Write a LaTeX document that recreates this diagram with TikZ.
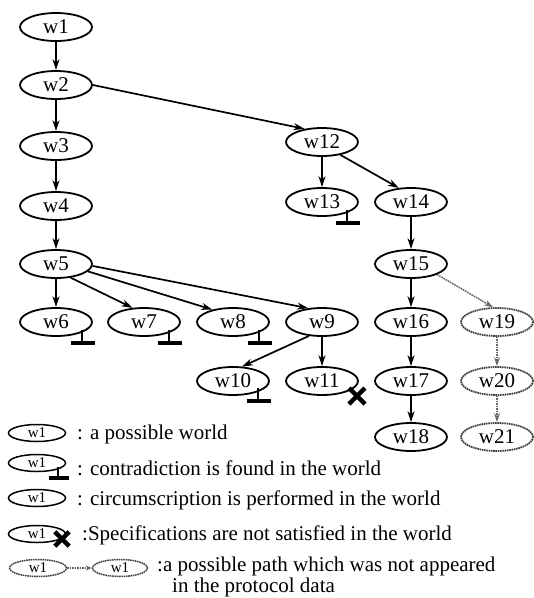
\documentclass[tikz,border=0pt]{standalone}
\usepackage{fontspec}
\setmainfont{Liberation Serif}
\usetikzlibrary{shapes.geometric,arrows.meta}
\begin{document}
\begin{tikzpicture}[x=1pt,y=-1pt,
  world/.style={ellipse,draw,line width=1.8pt,minimum width=72pt,minimum height=28pt,
    inner sep=0pt,font=\fontsize{21}{24}\selectfont},
  ghost/.style={world,draw=black!75,dash pattern=on 1.6pt off 0.7pt},
  keyworld/.style={ellipse,draw,line width=1.5pt,minimum width=57pt,minimum height=17pt,
    inner sep=0pt,font=\fontsize{15}{16}\selectfont},
  keyghost/.style={keyworld,draw=black!75,dash pattern=on 1.6pt off 0.7pt},
  link/.style={line width=1.7pt,-{Stealth[length=11pt,width=7pt]}},
  ghostlink/.style={line width=1.6pt,draw=black!60,fill=black!60,dash pattern=on 1.5pt off 1pt,
    -{Stealth[length=9pt,width=6pt]}},
  keytext/.style={anchor=base west,inner sep=0pt,font=\fontsize{21}{24}\selectfont},
  falsum/.pic={
    \draw[line width=2.6pt] (0,-13) -- (0,0);
    \draw[line width=4pt] (-11,0) -- (13,0);},
  unmet/.pic={
    \draw[line width=4.5pt] (-8,-8) -- (8,8) (-8,8) -- (8,-8);}
]
\useasboundingbox (0,0) rectangle (534,598);

% left trunk
\node[world] (w1) at (56,27) {w1};
\node[world] (w2) at (56,85) {w2};
\node[world] (w3) at (56,146) {w3};
\node[world] (w4) at (56,206) {w4};
\node[world] (w5) at (56,264) {w5};
\node[world] (w6) at (56,322) {w6};
\node[world] (w7) at (144,322) {w7};
\node[world] (w8) at (233,322) {w8};
\node[world] (w9) at (322,322) {w9};
\node[world] (w10) at (233,381) {w10};
\node[world] (w11) at (322,381) {w11};

% right branch
\node[world] (w12) at (322,142) {w12};
\node[world] (w13) at (322,202) {w13};
\node[world] (w14) at (411,202) {w14};
\node[world] (w15) at (411,264) {w15};
\node[world] (w16) at (411,322) {w16};
\node[world] (w17) at (411,381) {w17};
\node[world] (w18) at (411,437) {w18};
\node[ghost] (w19) at (497,322) {w19};
\node[ghost] (w20) at (497,381) {w20};
\node[ghost] (w21) at (497,437) {w21};

% transitions
\draw[link] (w1) -- (w2);
\draw[link] (w2) -- (w3);
\draw[link] (w3) -- (w4);
\draw[link] (w4) -- (w5);
\draw[link] (w5) -- (w6);
\draw[link] (w5.-43) -- (w7.129);
\draw[link] (w5.-13) -- (w8.149);
\draw[link] (w5.-3) -- (w9.135);
\draw[link] (w9.-133) -- (w10.58);
\draw[link] (w9) -- (w11);
\draw[link] (w2.east) -- (w12.143);
\draw[link] (w12) -- (w13);
\draw[link] (w12.-35) -- (w14.131);
\draw[link] (w14) -- (w15);
\draw[link] (w15) -- (w16);
\draw[link] (w16) -- (w17);
\draw[link] (w17) -- (w18);
\draw[ghostlink] (w15.-22) -- (w19.105);
\draw[ghostlink] (w19) -- (w20);
\draw[ghostlink] (w20) -- (w21);

% contradiction and failure marks
\pic at ([shift={(26,21)}]w6.center) {falsum};
\pic at ([shift={(25,21)}]w7.center) {falsum};
\pic at ([shift={(26,21)}]w8.center) {falsum};
\pic at ([shift={(25,20)}]w10.center) {falsum};
\pic at ([shift={(25,21)}]w13.center) {falsum};
\pic at ([shift={(35,15)}]w11.center) {unmet};

% key
\node[keyworld] (k1) at (37,433) {w1};
\node[keytext] (t1) at (77,439) {: a possible world};
\node[keyworld] (k2) at (37,463) {w1};
\pic[scale=0.85] at ([shift={(21,15)}]k2.center) {falsum};
\node[keytext] (t2) at (77,475) {: contradiction is found in the world};
\node[keyworld] (k3) at (37,498) {w1};
\node[keytext] (t3) at (77,505) {: circumscription is performed in the world};
\node[keyworld] (k4) at (37,534) {w1};
\pic[scale=0.9] at ([shift={(25,5)}]k4.center) {unmet};
\node[keytext] (t4) at (82,540) {:Specifications are not satisfied in the world};
\node[keyghost] (k5) at (38,568) {w1};
\node[keyghost,minimum width=55pt] (k6) at (120,568) {w1};
\draw[ghostlink,-{Stealth[length=6pt,width=5pt]}] (k5) -- (k6);
\node[keytext] (t5) at (157,571) {:a possible path which was not appeared};
\node[keytext] (t6) at (172,592) {in the protocol data};
\end{tikzpicture}
\end{document}
